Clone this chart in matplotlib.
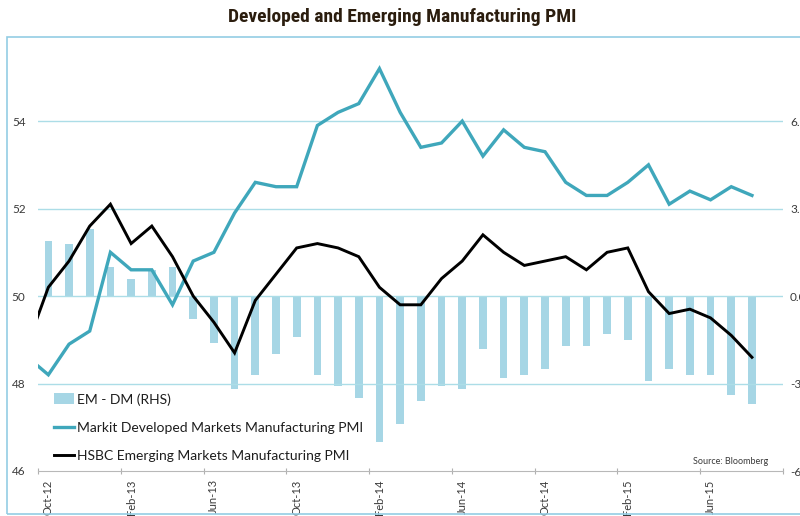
import matplotlib
matplotlib.use("Agg")
import matplotlib.pyplot as plt
import matplotlib.patches as mpatches
from matplotlib.lines import Line2D
import numpy as np
import pandas as pd

# Monthly PMI readings, Sep-12 .. Aug-15
months = pd.date_range("2012-09-01", "2015-08-01", freq="MS")
dm_pmi = [48.6, 48.2, 48.9, 49.2,
          51.0, 50.6, 50.6, 49.8, 50.8, 51.0, 51.9, 52.6, 52.5, 52.5, 53.9, 54.2,
          54.4, 55.2, 54.2, 53.4, 53.5, 54.0, 53.2, 53.8, 53.4, 53.3, 52.6, 52.3,
          52.3, 52.6, 53.0, 52.1, 52.4, 52.2, 52.5, 52.3]
em_pmi = [48.9, 50.2, 50.8, 51.6,
          52.1, 51.2, 51.6, 50.9, 50.0, 49.4, 48.7, 49.9, 50.5, 51.1, 51.2, 51.1,
          50.9, 50.2, 49.8, 49.8, 50.4, 50.8, 51.4, 51.0, 50.7, 50.8, 50.9, 50.6,
          51.0, 51.1, 50.1, 49.6, 49.7, 49.5, 49.1, 48.6]
# EM - DM spread, Oct-12 .. Aug-15
em_dm = [1.9, 1.8, 2.3,
         1.0, 0.6, 0.9, 1.0, -0.8, -1.6, -3.2, -2.7, -2.0, -1.4, -2.7, -3.1,
         -3.5, -5.0, -4.4, -3.6, -3.1, -3.2, -1.8, -2.8, -2.7, -2.5, -1.7, -1.7,
         -1.3, -1.5, -2.9, -2.5, -2.7, -2.7, -3.4, -3.7]

left_ticks = [46, 48, 50, 52, 54]
right_ticks = [-6, -3, 0, 3, 6]

TEAL = "#3fa7bb"
BAR = "#a6d6e5"
GRID = "#acdde7"
TXT = "#3a3a3a"
FONT = ["Lato", "DejaVu Sans"]

x_line = np.arange(len(months)) - 1          # Sep-12 sits just off the left edge
x_bar = np.arange(len(em_dm))
month_labels = [d.strftime("%b-%y") for d in months]

fig = plt.figure(figsize=(8, 5.16), dpi=100)
W, H = 800, 516
ax_l, ax_r, ax_t, ax_b = 38, 783, 38, 471
ax = fig.add_axes([ax_l / W, 1 - ax_b / H, (ax_r - ax_l) / W, (ax_b - ax_t) / H])
ax2 = ax.twinx()

# bars on the right-hand scale, lines above them
ax2.bar(x_bar, em_dm, width=0.37, color=BAR, edgecolor="none", zorder=2)
ax.plot(x_line, dm_pmi, color=TEAL, lw=2.4, solid_joinstyle="miter", zorder=3)
ax.plot(x_line, em_pmi, color="black", lw=2.1, solid_joinstyle="miter", zorder=4)
ax.set_zorder(ax2.get_zorder() + 1)
ax.patch.set_visible(False)

ymin, ymax = 46, 55.9
ax.set_ylim(ymin, ymax)
ax2.set_ylim((ymin - 50) * 1.5, (ymax - 50) * 1.5)
ax.set_xlim(-0.5, 35.5)

for v in left_ticks[1:]:
    ax.axhline(v, color=GRID, lw=1.0, zorder=1)

ax.set_yticks(left_ticks)
ax.set_yticklabels([str(v) for v in left_ticks], fontsize=8.5, color=TXT, family=FONT)
ax.tick_params(axis="y", length=0, pad=9)
ax2.set_yticks(right_ticks)
ax2.set_yticklabels([f"{v:.1f}" for v in right_ticks], fontsize=8.5, color=TXT, family=FONT)
ax2.tick_params(axis="y", length=0, pad=5)

# tick marks between groups of four months, labels on the first month of each group
ax.set_xticks(np.arange(-0.5, 36, 4))
ax.set_xticklabels([])
ax.tick_params(axis="x", which="major", direction="inout", length=5, color="#b0b0b0", width=0.8)
ax.set_xticks(x_bar[::4], minor=True)
ax.set_xticklabels(month_labels[1::4][:len(x_bar[::4])], minor=True, rotation=90,
                   fontsize=8, color=TXT, family=FONT)
ax.tick_params(axis="x", which="minor", length=0, pad=6)

for a in (ax, ax2):
    for s in ("left", "right", "top"):
        a.spines[s].set_visible(False)
ax.spines["bottom"].set_color("#b8b8b8")
ax.spines["bottom"].set_linewidth(0.8)
ax2.spines["bottom"].set_visible(False)

handles = [
    mpatches.Patch(facecolor=BAR, edgecolor="none", label="EM - DM (RHS)"),
    Line2D([], [], color=TEAL, lw=2.4, label="Markit Developed Markets Manufacturing PMI"),
    Line2D([], [], color="black", lw=2.1, label="HSBC Emerging Markets Manufacturing PMI"),
]
leg = ax.legend(handles=handles, loc="upper left", frameon=False,
                bbox_to_anchor=(54 / W, 1 - 393 / H), bbox_transform=fig.transFigure,
                borderpad=0, borderaxespad=0, handlelength=1.45, handleheight=0.8,
                handletextpad=0.2, labelspacing=1.17,
                prop={"family": FONT, "size": 10})
for t in leg.get_texts():
    t.set_color("#1e1e1e")

fig.text(693 / W, 1 - 461 / H, "Source: Bloomberg", fontsize=6.5, color=TXT,
         family=FONT, va="center", ha="left")

fig.text(402 / W, 1 - 17 / H, "Developed and Emerging Manufacturing PMI",
         fontsize=14, fontweight="bold", color="#2b1d0e", ha="center", va="center",
         family=["Roboto Condensed", "DejaVu Sans"], fontstretch="condensed")

# light frame around the chart area
fig.patches.append(mpatches.Rectangle((7 / W, 1 - 514 / H), 800 / W, (514 - 37) / H,
                                      transform=fig.transFigure, fill=False,
                                      edgecolor="#93cde4", lw=1.2))

fig.savefig("out.png", dpi=100)
